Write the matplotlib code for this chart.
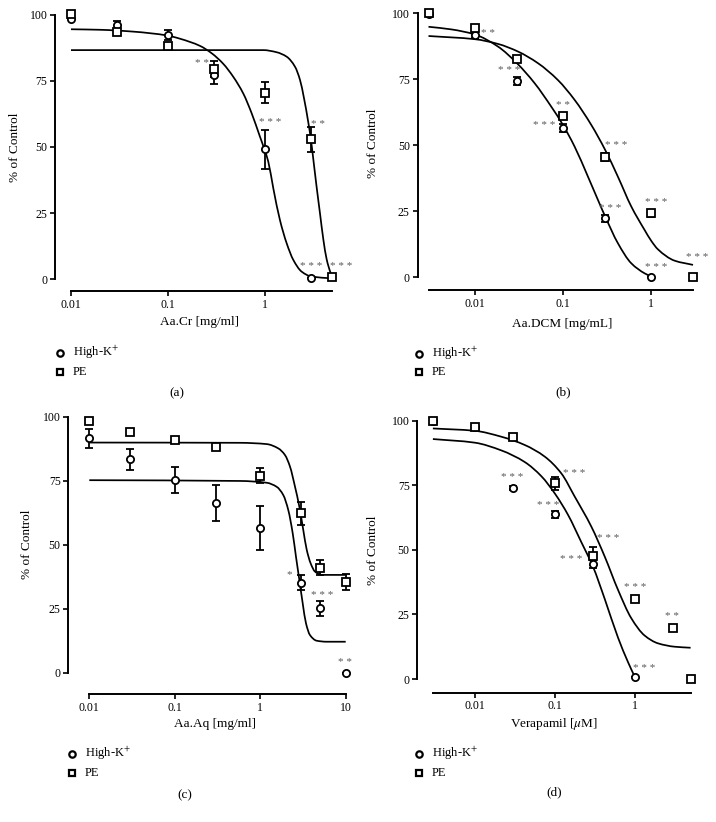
import numpy as np
import matplotlib
matplotlib.use('Agg')
import matplotlib.pyplot as plt
from matplotlib.lines import Line2D
from matplotlib.path import Path
from matplotlib.patches import PathPatch
from matplotlib.ticker import FixedLocator, FixedFormatter, NullLocator

plt.rcParams['font.family'] = ['Liberation Serif', 'DejaVu Serif']
plt.rcParams['mathtext.fontset'] = 'stix'

# ---------------- data ----------------
# Panel (a) Aa.Cr
a_hk_x = [0.01, 0.03, 0.1, 0.3, 1, 3]
a_hk_y = [98.4, 96.1, 92.4, 77.3, 49.1, 0.3]
a_hk_err = [0, 1.5, 1.8, 3.5, 7.5, 0]
a_pe_x = [0.01, 0.03, 0.1, 0.3, 1, 3, 5]
a_pe_y = [100.4, 93.4, 88.3, 79.5, 70.6, 52.9, 0.6]
a_pe_err = [0, 1.0, 0.5, 3.0, 4.1, 4.7, 0]
a_hk_fit_x = [0.01, 0.02, 0.044, 0.1, 0.134, 0.215, 0.284, 0.374, 0.474, 0.601, 0.734, 0.895, 1.0,
              1.09, 1.227, 1.44, 1.69, 1.98, 2.41, 3.06, 5]
a_hk_fit_y = [94.6, 94.4, 93.7, 92.2, 91.0, 88.3, 85.5, 81.5, 76.6, 70.3, 62.8, 53.9, 48.9,
              44.5, 34.5, 22.3, 13.5, 7.2, 2.8, 0.9, 0.25]
a_pe_fit_x = [0.01, 0.5, 0.97, 1.33, 1.69, 2.06, 2.32, 2.55, 2.82, 3.01, 3.18, 3.44, 3.73, 4.04,
              4.37, 4.81, 5]
a_pe_fit_y = [86.7, 86.7, 86.7, 85.9, 84.2, 80.4, 75.4, 68.5, 59.5, 52.7, 45.5, 35.0, 24.9, 15.0,
              7.5, 2.2, 0.6]
a_stars = [(0.223, 81.7, '* *'), (1.135, 59.2, '* * *'), (3.58, 58.7, '* *'),
           (3.05, 4.7, '* * *'), (6.24, 4.7, '* * *')]

# Panel (b) Aa.DCM
b_hk_x = [0.003, 0.01, 0.03, 0.1, 0.3, 1]
b_hk_y = [99.8, 91.8, 74.4, 56.7, 22.3, 0.0]
b_hk_err = [0.5, 1.0, 1.5, 1.5, 1.2, 0]
b_pe_x = [0.003, 0.01, 0.03, 0.1, 0.3, 1, 3]
b_pe_y = [100.0, 94.6, 82.6, 61.2, 45.7, 24.2, 0.2]
b_pe_err = [0.5, 0.8, 0.8, 1.0, 1.5, 1.2, 0]
b_hk_fit_x = [0.003, 0.00545, 0.01, 0.01836, 0.0301, 0.0478, 0.0738, 0.1, 0.1355, 0.192, 0.249,
              0.301, 0.419, 0.594, 0.841, 1.0]
b_hk_fit_y = [94.9, 93.9, 92.0, 87.4, 81.1, 73.5, 64.6, 57.7, 49.5, 38.1, 29.3, 23.0, 12.9, 5.3,
              1.5, 0.3]
b_pe_fit_x = [0.003, 0.01, 0.01836, 0.031, 0.0521, 0.0877, 0.1355, 0.2094, 0.301, 0.419, 0.594,
              0.841, 1.0, 1.189, 1.837, 2.97]
b_pe_fit_y = [91.4, 90.2, 88.4, 85.5, 81.1, 74.7, 67.2, 57.7, 48.2, 38.1, 26.8, 17.9, 13.8, 10.6,
              6.3, 4.7]
b_stars = [(0.01416, 92.4, '* *'), (0.0249, 78.2, '* * *'), (0.1, 64.9, '* *'),
           (0.0619, 57.4, '* * *'), (0.402, 50.1, '* * *'), (0.3436, 25.9, '* * *'),
           (1.14, 28.4, '* * *'), (1.14, 3.7, '* * *'), (3.32, 7.4, '* * *')]

# Panel (c) Aa.Aq
c_hk_x = [0.01, 0.03, 0.1, 0.3, 1, 3, 5, 10]
c_hk_y = [91.5, 83.3, 75.3, 66.4, 56.6, 35.2, 25.1, 0.0]
c_hk_err = [3.6, 4.1, 5.0, 7.0, 8.5, 2.8, 3.0, 0]
c_pe_x = [0.01, 0.03, 0.1, 0.3, 1, 3, 5, 10]
c_pe_y = [98.4, 94.1, 90.9, 88.0, 77.0, 62.2, 41.0, 35.5]
c_pe_err = [0.5, 0.8, 0.6, 0.8, 3.0, 4.5, 3.0, 3.0]
c_hk_fit_x = [0.01, 0.58, 1.19, 1.56, 1.86, 2.13, 2.40, 2.62, 2.87, 3.14, 3.43, 3.82, 4.57, 5.98, 10]
c_hk_fit_y = [75.2, 74.9, 74.2, 72.6, 69.4, 63.5, 54.4, 45.3, 36.2, 27.1, 19.3, 14.7, 12.5, 12.1, 12.1]
c_pe_fit_x = [0.01, 0.58, 1.19, 1.63, 1.95, 2.23, 2.55, 2.87, 3.19, 3.50, 3.89, 4.37, 5.24, 10]
c_pe_fit_y = [89.9, 89.8, 89.3, 87.6, 85.0, 80.5, 72.7, 64.8, 55.7, 48.0, 42.7, 39.5, 38.2, 38.2]
c_stars = [(2.19, 38.2, '*'), (5.24, 30.3, '* * *'), (9.85, 4.0, '* *')]

# Panel (d) Verapamil
d_hk_x = [0.003, 0.01, 0.03, 0.1, 0.3, 1]
d_hk_y = [100.0, 97.5, 74.1, 63.7, 44.4, 0.6]
d_hk_err = [0.3, 0.5, 0.8, 1.5, 1.5, 0]
d_pe_x = [0.003, 0.01, 0.03, 0.1, 0.3, 1, 3, 5]
d_pe_y = [100.0, 97.7, 93.5, 75.7, 47.6, 30.8, 19.9, 0.0]
d_pe_err = [0.3, 0.5, 0.8, 2.5, 3.5, 1.0, 0.5, 0]
d_hk_fit_x = [0.003, 0.01, 0.0215, 0.0422, 0.0681, 0.102, 0.147, 0.215, 0.301, 0.422, 0.619,
              0.826, 1.0]
d_hk_fit_y = [92.9, 91.5, 88.5, 84.0, 78.5, 71.5, 63.5, 53.0, 43.5, 31.0, 16.0, 6.5, 0.9]
d_pe_fit_x = [0.003, 0.01, 0.0215, 0.0422, 0.075, 0.121, 0.178, 0.287, 0.422, 0.619, 0.908,
              1.334, 1.958, 3.16, 5]
d_pe_fit_y = [97.0, 96.1, 93.8, 90.6, 86.1, 79.6, 70.6, 59.0, 47.4, 34.5, 23.5, 16.8, 13.8,
              12.5, 12.1]
d_stars = [(0.0293, 78.1, '* * *'), (0.1745, 79.4, '* * *'), (0.0826, 67.0, '* * *'),
           (0.473, 54.5, '* * *'), (0.1616, 46.1, '* * *'), (1.02, 35.4, '* * *'),
           (2.96, 24.1, '* *'), (1.31, 4.1, '* * *')]

yticks = [0, 25, 50, 75, 100]
ytick_labels = ['0', '25', '50', '75', '100']
xticks_3 = [0.01, 0.1, 1]
xticks_3_labels = ['0.01', '0.1', '1']
xticks_4 = [0.01, 0.1, 1, 10]
xticks_4_labels = ['0.01', '0.1', '1', '10']

legend_labels = ['High-K$^{+}$', 'PE']

# ---------------- layout ----------------
W, H = 716, 822
fig = plt.figure(figsize=(W / 100, H / 100), dpi=100)


def px_rect(l, t, r, b):
    return [l / W, 1 - b / H, (r - l) / W, (b - t) / H]


def smooth_curve(ax, xs, ys, **kw):
    """Draw the read-off fit points as a smooth (monotone Bezier) path in log-x space."""
    lx = np.log10(np.asarray(xs, float))
    y = np.asarray(ys, float)
    n = len(lx)
    h = np.diff(lx)
    d = np.diff(y) / h
    m = np.zeros(n)
    m[0], m[-1] = d[0], d[-1]
    for i in range(1, n - 1):
        if d[i - 1] * d[i] <= 0:
            m[i] = 0.0
        else:
            w1 = 2 * h[i] + h[i - 1]
            w2 = h[i] + 2 * h[i - 1]
            m[i] = (w1 + w2) / (w1 / d[i - 1] + w2 / d[i])
    verts = [(lx[0], y[0])]
    codes = [Path.MOVETO]
    for i in range(n - 1):
        verts.append((lx[i] + h[i] / 3, y[i] + m[i] * h[i] / 3))
        verts.append((lx[i + 1] - h[i] / 3, y[i + 1] - m[i + 1] * h[i] / 3))
        verts.append((lx[i + 1], y[i + 1]))
        codes += [Path.CURVE4] * 3
    v = np.array(verts)
    v[:, 0] = 10 ** v[:, 0]
    patch = PathPatch(Path(v, codes), fill=False, **kw)
    patch.set_clip_on(False)
    ax.add_patch(patch)


panels = [
    dict(rect=px_rect(71, 15, 332.3, 279), xlim=(0.01, 5), off=(16, 12),
         hk=(a_hk_x, a_hk_y, a_hk_err), pe=(a_pe_x, a_pe_y, a_pe_err),
         hkfit=(a_hk_fit_x, a_hk_fit_y), pefit=(a_pe_fit_x, a_pe_fit_y),
         stars=a_stars, xt=(xticks_3, xticks_3_labels), xlabel='Aa.Cr [mg/ml]',
         xlab=(0.49, -0.163), ylab=(-0.214, 0.5),
         leg=(60, 352.7, 372, 72.7), tag='(a)', tagpos=(177, 393)),
    dict(rect=px_rect(428.5, 13.3, 693.4, 277.3), xlim=(0.003, 3), off=(11, 12.7),
         hk=(b_hk_x, b_hk_y, b_hk_err), pe=(b_pe_x, b_pe_y, b_pe_err),
         hkfit=(b_hk_fit_x, b_hk_fit_y), pefit=(b_pe_fit_x, b_pe_fit_y),
         stars=b_stars, xt=(xticks_3, xticks_3_labels), xlabel='Aa.DCM [mg/mL]',
         xlab=(0.504, -0.176), ylab=(-0.2095, 0.509),
         leg=(419, 353.7, 372, 431.7), tag='(b)', tagpos=(563, 392)),
    dict(rect=px_rect(89.3, 416.7, 345.7, 672.7), xlim=(0.01, 10), off=(21, 21.3),
         hk=(c_hk_x, c_hk_y, c_hk_err), pe=(c_pe_x, c_pe_y, c_pe_err),
         hkfit=(c_hk_fit_x, c_hk_fit_y), pefit=(c_pe_fit_x, c_pe_fit_y),
         stars=c_stars, xt=(xticks_4, xticks_4_labels), xlabel='Aa.Aq [mg/ml]',
         xlab=(0.49, -0.2), ylab=(-0.244, 0.503),
         leg=(72.3, 753.7, 772.7, 85), tag='(c)', tagpos=(185, 795)),
    dict(rect=px_rect(432.9, 420.7, 690.6, 679), xlim=(0.003, 5), off=(15.6, 13.7),
         hk=(d_hk_x, d_hk_y, d_hk_err), pe=(d_pe_x, d_pe_y, d_pe_err),
         hkfit=(d_hk_fit_x, d_hk_fit_y), pefit=(d_pe_fit_x, d_pe_fit_y),
         stars=d_stars, xt=(xticks_3, xticks_3_labels), xlabel='Verapamil [$\\mu$M]',
         xlab=(0.47, -0.175), ylab=(-0.232, 0.499),
         leg=(419, 753.7, 772.7, 432), tag='(d)', tagpos=(554, 792)),
]

LW_SPINE = 1.4
LW_CURVE = 1.25
MS = 5.2
MEW = 1.3
STAR_COLOR = '#5a5a5a'

for p in panels:
    ax = fig.add_axes(p['rect'])
    ax.set_xscale('log')
    ax.set_xlim(*p['xlim'])
    ax.set_ylim(0, 100)
    for s in ('top', 'right'):
        ax.spines[s].set_visible(False)
    ax.spines['left'].set_position(('outward', p['off'][0] * 0.72))
    ax.spines['bottom'].set_position(('outward', p['off'][1] * 0.72))
    ax.spines['left'].set_bounds(0, 100)
    ax.spines['bottom'].set_bounds(*p['xlim'])
    for s in ('left', 'bottom'):
        ax.spines[s].set_linewidth(LW_SPINE)
    ax.xaxis.set_major_locator(FixedLocator(p['xt'][0]))
    ax.xaxis.set_major_formatter(FixedFormatter(p['xt'][1]))
    ax.xaxis.set_minor_locator(NullLocator())
    ax.yaxis.set_major_locator(FixedLocator(yticks))
    ax.yaxis.set_major_formatter(FixedFormatter(ytick_labels))
    ax.tick_params(axis='both', direction='out', length=3.5, width=1.2,
                   labelsize=8.5, pad=2)
    ax.patch.set_alpha(0)

    # fitted curves
    smooth_curve(ax, p['hkfit'][0], p['hkfit'][1], edgecolor='black', lw=LW_CURVE, zorder=2)
    smooth_curve(ax, p['pefit'][0], p['pefit'][1], edgecolor='black', lw=LW_CURVE, zorder=2)

    # data with error bars
    for (xs, ys, es), mk in ((p['hk'], 'o'), (p['pe'], 's')):
        eb = ax.errorbar(xs, ys, yerr=es, fmt='none', ecolor='black', elinewidth=1.3,
                         capsize=2.6, capthick=1.3, zorder=3)
        for art in eb.lines[1] + eb.lines[2]:
            art.set_clip_on(False)
        ax.plot(xs, ys, ls='none', marker=mk, ms=MS, mfc='white', mec='black',
                mew=MEW, zorder=4, clip_on=False)

    for (sx, sy, st) in p['stars']:
        ax.text(sx, sy, st, fontsize=8, color=STAR_COLOR, ha='center', va='center',
                clip_on=False)

    ax.set_xlabel(p['xlabel'], fontsize=9.5)
    ax.xaxis.set_label_coords(*p['xlab'])
    ax.xaxis.label.set_va('center')
    ax.set_ylabel('% of Control', fontsize=9.5)
    ax.yaxis.set_label_coords(*p['ylab'])
    ax.yaxis.label.set_va('center')

    # legend (drawn manually below the axes)
    lx, ly1, ly2, tx = p['leg']
    for (yy, mk, lab) in ((ly1, 'o', legend_labels[0]), (ly2, 's', legend_labels[1])):
        fig.add_artist(Line2D([lx / W], [1 - yy / H], transform=fig.transFigure,
                              ls='none', marker=mk, ms=4.6, mfc='white', mec='black', mew=1.6))
        fig.text(tx / W, 1 - yy / H, lab, fontsize=9, ha='left', va='center')

    fig.text(p['tagpos'][0] / W, 1 - p['tagpos'][1] / H, p['tag'], fontsize=9.5,
             ha='center', va='center')

fig.savefig('out.png', dpi=100)
